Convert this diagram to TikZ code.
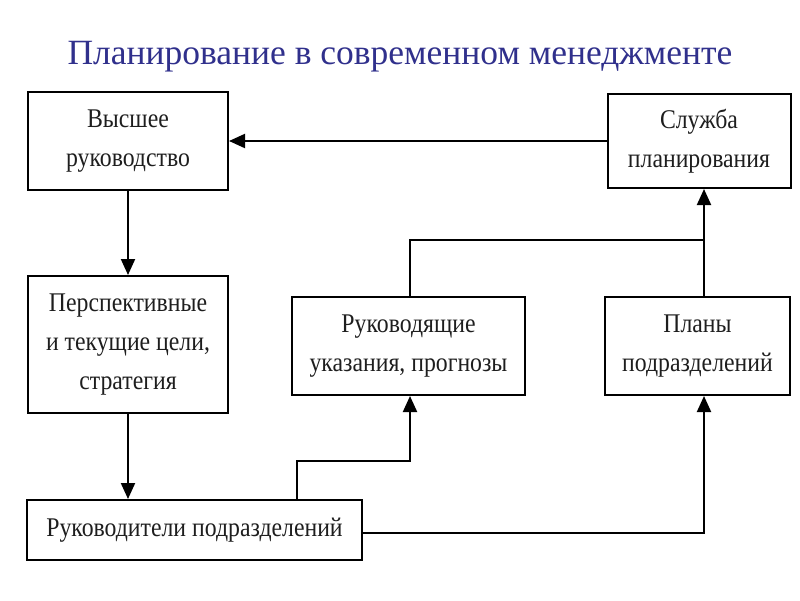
\documentclass[tikz,border=0pt]{standalone}
\usepackage{fontspec}
\setmainfont{Liberation Serif}
\newfontfamily\boxfont[FakeStretch=0.88]{Liberation Serif}
\usetikzlibrary{arrows.meta}
\definecolor{titleblue}{RGB}{48,48,140}
\definecolor{boxtext}{RGB}{30,30,30}
\begin{document}
\begin{tikzpicture}[x=1pt,y=-1pt,
  blk/.style={draw=black,line width=2pt,fill=white,inner sep=0pt,align=center,
    font=\boxfont\fontsize{27}{39}\selectfont,text=boxtext},
  conn/.style={line width=2pt},
  arr/.style={line width=2pt,-{Triangle[length=16pt,width=14pt]}}]
\useasboundingbox (0,0) rectangle (800,600);
\node[text=titleblue,font=\fontsize{35.5}{40}\selectfont] (title) at (400,57) {Планирование в современном менеджменте};
\node[blk,minimum width=200pt,minimum height=98pt] (vr) at (128,141) {Высшее\\руководство};
\node[blk,minimum width=183pt,minimum height=94pt] (sp) at (699,141) {Служба\\планирования};
\node[blk,minimum width=200pt,minimum height=137pt] (pc) at (128,344.5) {Перспективные\\и текущие цели,\\стратегия};
\node[blk,minimum width=233pt,minimum height=98pt] (ru) at (408.5,346) {Руководящие\\указания, прогнозы};
\node[blk,minimum width=185pt,minimum height=98pt] (pp) at (697.5,346) {Планы\\подразделений};
\node[blk,minimum width=335pt,minimum height=60pt] (rp) at (194.5,530) {Руководители подразделений};
\coordinate (j1) at (704,240);
\coordinate (j2) at (297,461);
\coordinate (j3) at (410,461);
\coordinate (j4) at (704,533);
\draw[arr] (sp.west) -- (vr.east);
\draw[arr] (vr.south) -- (pc.north);
\draw[arr] (pc.south) -- (rp.north -| pc.south);
\draw[conn] (ru.north -| j3) |- (j1);
\draw[arr] (pp.north -| j1) -- (sp.south -| j1);
\draw[arr] (rp.north -| j2) -- (j2) -- (j3) -- (ru.south -| j3);
\draw[arr] (rp.east |- j4) -- (j4) -- (pp.south -| j4);
\end{tikzpicture}
\end{document}
